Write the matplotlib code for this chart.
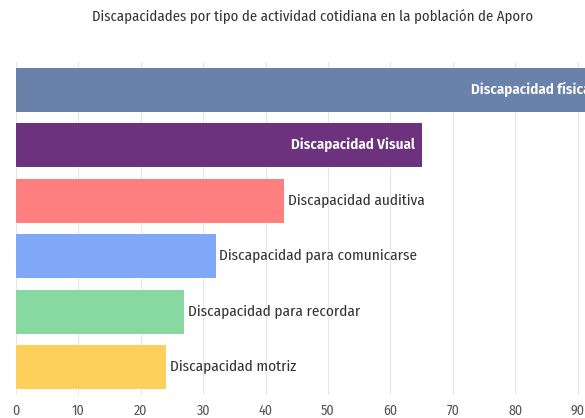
import numpy as np
import matplotlib.pyplot as plt

plt.rcParams['font.family'] = ['Fira Sans Condensed', 'Roboto Condensed', 'Archivo Narrow', 'DejaVu Sans']

# datos
categorias = ['Discapacidad física', 'Discapacidad Visual', 'Discapacidad auditiva',
              'Discapacidad para comunicarse', 'Discapacidad para recordar', 'Discapacidad motriz']
valores = [93, 65, 43, 32, 27, 24]
colores = ['#6a82a9', '#6c327d', '#fe7f7f', '#7fa8f8', '#88d8a1', '#fdcf5b']

fig = plt.figure(figsize=(5.85, 4.18), dpi=100)
# el eje sigue mas alla del borde derecho de la figura
ax = fig.add_axes([16 / 585, 1 - 395 / 418, 624 / 585, (395 - 62) / 418])

y = np.arange(len(categorias))
ax.barh(y, valores, height=0.8, color=colores, zorder=2)
ax.set_ylim(len(categorias) - 0.5, -0.5)
ax.set_xlim(0, 100)

for i, (cat, v) in enumerate(zip(categorias, valores)):
    if i < 2:
        ax.text(v - 1.0, i, cat, ha='right', va='center', color='white',
                fontsize=10.8, fontweight='semibold', zorder=3)
    else:
        ax.text(v + 0.6, i, cat, ha='left', va='center', color='#333333',
                fontsize=11, zorder=3)

ax.set_xticks(np.arange(0, 101, 10))
ax.set_yticks([])
ax.grid(axis='x', color='#e6e6e6', linewidth=0.8, zorder=0)
ax.tick_params(axis='x', length=0, labelsize=10, labelcolor='#555555', pad=6)
for s in ax.spines.values():
    s.set_visible(False)

fig.text(313 / 585, 1 - 17 / 418, 'Discapacidades por tipo de actividad cotidiana en la población de Aporo',
         ha='center', va='center', fontsize=10.6, color='#333333')

plt.savefig('out.png', dpi=100)
